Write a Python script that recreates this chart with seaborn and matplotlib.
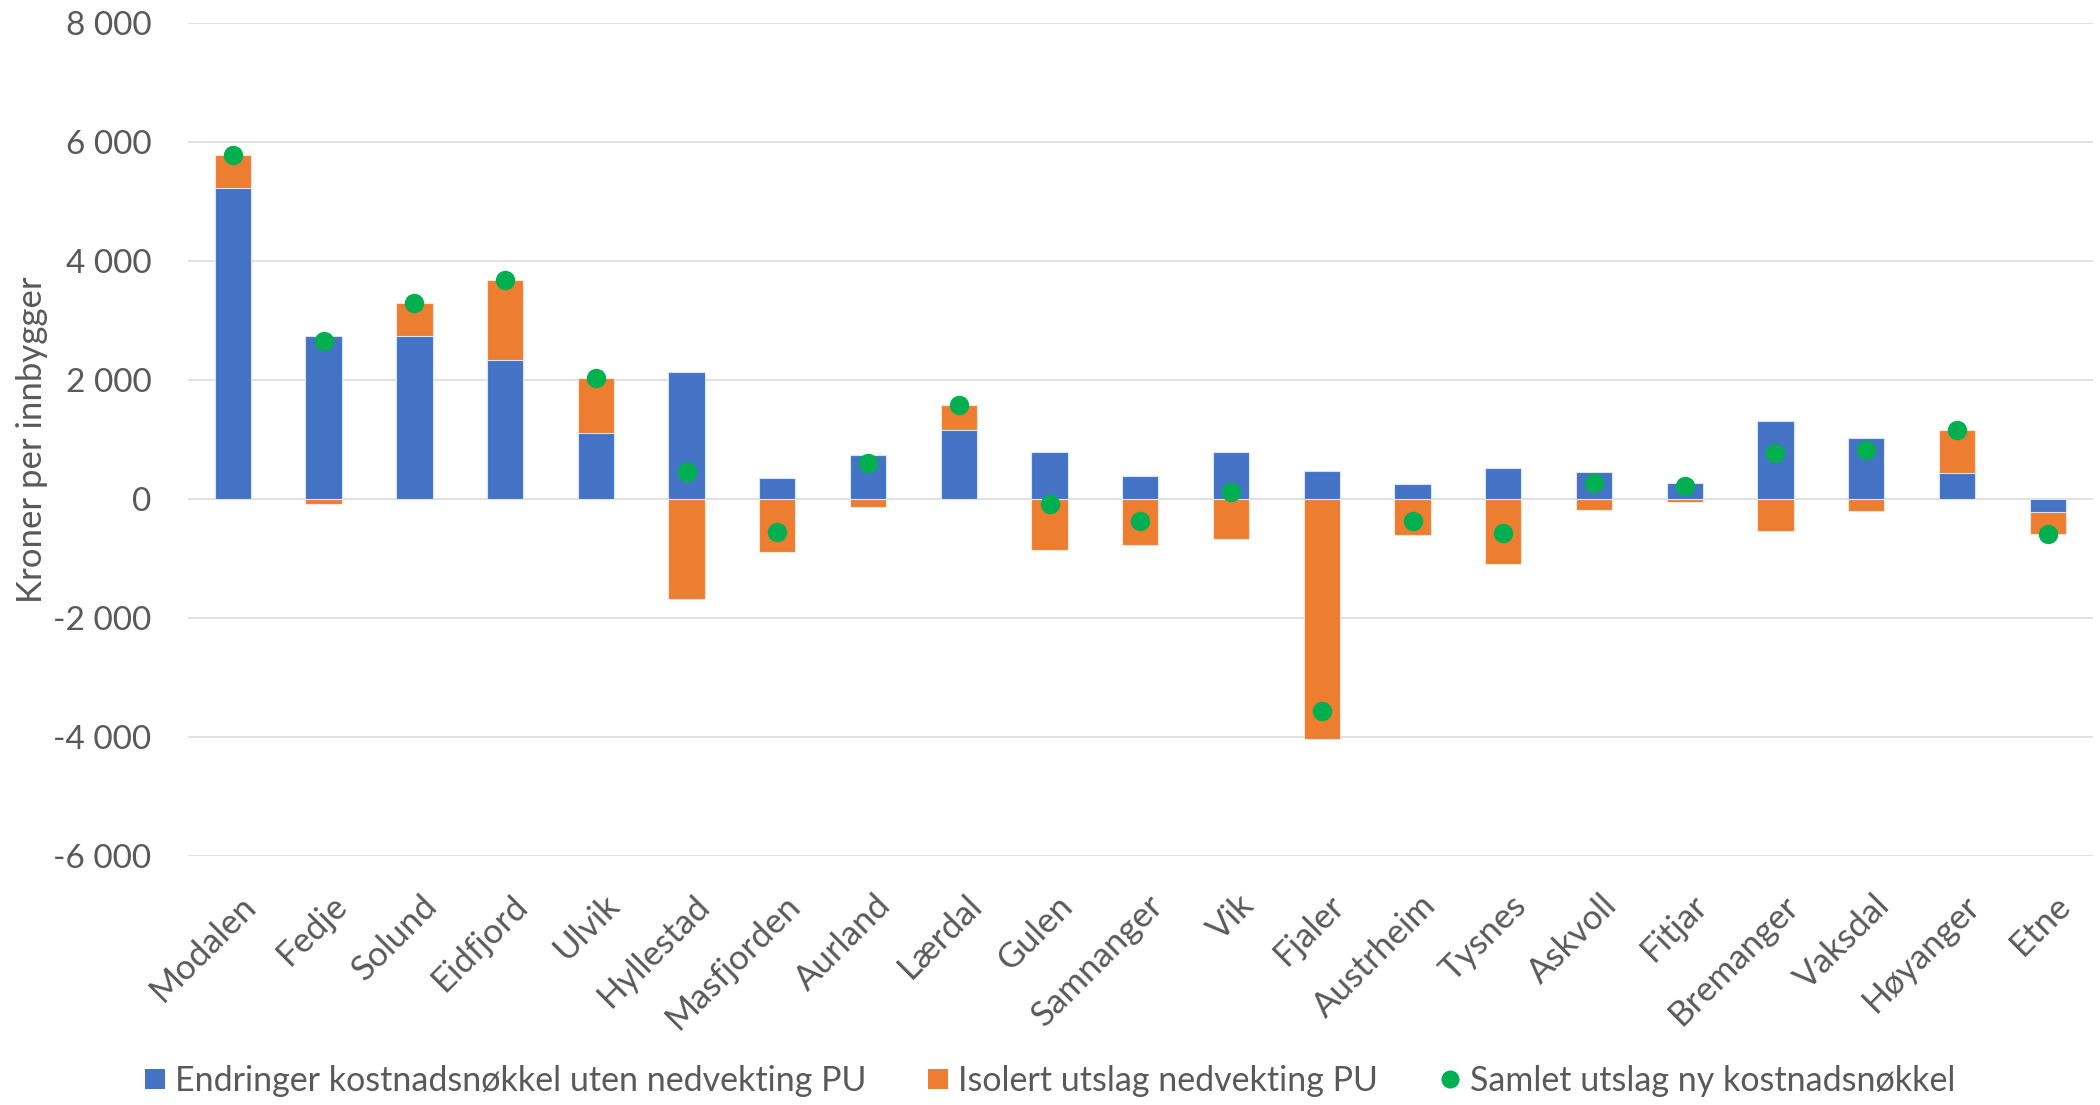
import matplotlib
matplotlib.use("Agg")
import matplotlib.pyplot as plt
import matplotlib.transforms as mtransforms
from matplotlib.lines import Line2D
from matplotlib.ticker import FuncFormatter, MultipleLocator
import seaborn as sns
import numpy as np

# Municipalities and their changes (kroner per inhabitant)
kommuner = ["Modalen", "Fedje", "Solund", "Eidfjord", "Ulvik", "Hyllestad",
            "Masfjorden", "Aurland", "Lærdal", "Gulen", "Samnanger", "Vik",
            "Fjaler", "Austrheim", "Tysnes", "Askvoll", "Fitjar", "Bremanger",
            "Vaksdal", "Høyanger", "Etne"]
endringer_uten_pu = [5220, 2740, 2740, 2340, 1110, 2135, 350, 735, 1150, 780, 390,
                     790, 465, 245, 525, 455, 270, 1310, 1020, 430, -220]
isolert_pu = [560, -80, 550, 1330, 920, -1690, -900, -140, 420, -860, -770,
              -670, -4035, -610, -1095, -190, -60, -545, -205, 730, -380]
samlet_utslag = [5780, 2660, 3290, 3670, 2030, 445, -550, 595, 1570, -80, -380,
                 120, -3570, -365, -570, 265, 210, 765, 815, 1160, -600]

legend_labels = ["Endringer kostnadsnøkkel uten nedvekting PU",
                 "Isolert utslag nedvekting PU",
                 "Samlet utslag ny kostnadsnøkkel"]

BLUE = "#4472C4"
ORANGE = "#ED7D31"
GREEN = "#00B050"
TEXT = "#595959"
GRID = "#D9D9D9"

sns.set_style("white")
plt.rcParams["font.family"] = ["Lato", "DejaVu Sans"]

fig = plt.figure(figsize=(21, 11.05), dpi=100)
ax = fig.add_axes([0.0893, 0.2255, 0.9074, 0.7539])

# Orange segment extends from the top of the blue bar when both share sign,
# otherwise it starts at zero; blue is drawn over it.
blue_arr = np.array(endringer_uten_pu)
orange_arr = np.array(isolert_pu)
orange_extent = np.where(np.sign(blue_arr) == np.sign(orange_arr),
                         blue_arr + orange_arr, orange_arr)

sns.barplot(x=kommuner, y=orange_extent, color=ORANGE, width=0.4, ax=ax,
            edgecolor="#FBE5D6", linewidth=0.8, saturation=1, zorder=2)
sns.barplot(x=kommuner, y=endringer_uten_pu, color=BLUE, width=0.4, ax=ax,
            edgecolor="#DAE3F3", linewidth=0.8, saturation=1, zorder=3)
sns.stripplot(x=kommuner, y=samlet_utslag, color=GREEN, size=14, jitter=False,
              linewidth=0, ax=ax, zorder=5)

ax.set_xlim(-0.5, len(kommuner) - 0.5)
ax.set_ylim(-6000, 8000)
ax.yaxis.set_major_locator(MultipleLocator(2000))
ax.yaxis.set_major_formatter(FuncFormatter(lambda v, p: f"{int(v):,}".replace(",", " ")))
ax.grid(axis="y", color=GRID, linewidth=1.1, zorder=0)
ax.grid(axis="x", visible=False)
ax.set_axisbelow(True)
for s in ax.spines.values():
    s.set_visible(False)

ax.tick_params(axis="y", length=0, pad=26, labelsize=24, labelcolor=TEXT)
ax.tick_params(axis="x", length=0, pad=32, labelsize=25, labelcolor=TEXT)

offset = mtransforms.ScaledTranslation(0.18, 0, fig.dpi_scale_trans)
for lbl in ax.get_xticklabels():
    lbl.set_rotation(45)
    lbl.set_ha("right")
    lbl.set_va("center")
    lbl.set_rotation_mode("anchor")
    lbl.set_transform(lbl.get_transform() + offset)

ax.set_xlabel("")
ax.set_ylabel("Kroner per innbygger", fontsize=25, color=TEXT)
ax.yaxis.set_label_coords(-0.073, 0.5)

handles = [
    Line2D([], [], marker="s", linestyle="", markerfacecolor=BLUE, markeredgewidth=0, markersize=14),
    Line2D([], [], marker="s", linestyle="", markerfacecolor=ORANGE, markeredgewidth=0, markersize=14),
    Line2D([], [], marker="o", linestyle="", markerfacecolor=GREEN, markeredgewidth=0, markersize=13),
]
leg = fig.legend(handles, legend_labels, loc="center", bbox_to_anchor=(0.5, 0.022),
                 ncol=3, frameon=False, fontsize=24.5, handlelength=0.6,
                 handletextpad=0.3, columnspacing=1.8)
for t in leg.get_texts():
    t.set_color(TEXT)

fig.savefig("out.png", dpi=100)
